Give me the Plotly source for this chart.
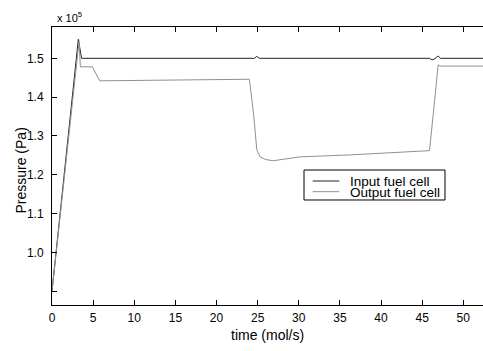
import plotly.graph_objects as go

# Data (pressure in units of 1e5 Pa)
t_input = [0, 3.2, 3.6, 24.6, 24.9, 25.2, 45.9, 46.2, 46.55, 46.95, 47.25, 52.5]
p_input = [0.90, 1.549, 1.500, 1.500, 1.505, 1.500, 1.500, 1.496, 1.499, 1.506, 1.500, 1.500]

t_output = [0, 3.3, 3.45, 4.9, 5.8, 24.0, 24.5, 24.9, 25.3, 26.0, 26.9, 30.1, 36.2, 42.3, 45.9, 46.95, 47.2, 52.5]
p_output = [0.90, 1.545, 1.478, 1.478, 1.442, 1.446, 1.358, 1.264, 1.246, 1.239, 1.236, 1.246, 1.251, 1.258, 1.262, 1.483, 1.480, 1.480]

series_names = ["Input fuel cell", "Output fuel cell"]
series_colors = ["#222222", "#8f8f8f"]

x_ticks = [0, 5, 10, 15, 20, 25, 30, 35, 40, 45, 50]
y_ticks = [1.0, 1.1, 1.2, 1.3, 1.4, 1.5]
y_ticklabels = ["1.0", "1.1", "1.2", "1.3", "1.4", "1.5"]
y_unlabeled_ticks = [0.9]

FONT = "Liberation Sans, Arial, sans-serif"

fig = go.Figure()
fig.add_trace(go.Scatter(x=t_input, y=p_input, mode="lines", name=series_names[0],
                         line=dict(color=series_colors[0], width=1), showlegend=False))
fig.add_trace(go.Scatter(x=t_output, y=p_output, mode="lines", name=series_names[1],
                         line=dict(color=series_colors[1], width=1), showlegend=False))

fig.update_layout(
    width=483, height=351,
    margin=dict(l=52, r=0, t=27, b=46),
    paper_bgcolor="white", plot_bgcolor="white",
    font=dict(family=FONT, color="black", size=12),
    showlegend=False,
)
fig.update_xaxes(range=[0, 52.4], tickvals=x_ticks, ticks="inside", ticklen=5,
                 tickcolor="black", showline=True, linecolor="black", linewidth=1,
                 mirror="ticks", showgrid=False, zeroline=False,
                 tickfont=dict(size=12, family=FONT, color="black"), ticklabelstandoff=2)
fig.update_yaxes(range=[0.8642, 1.5807], tickvals=y_ticks, ticktext=y_ticklabels,
                 ticks="inside", ticklen=5, tickcolor="black", showline=True,
                 linecolor="black", linewidth=1, mirror=False, showgrid=False,
                 zeroline=False, tickfont=dict(size=12, family=FONT, color="black"),
                 ticklabelstandoff=5,
                 minor=dict(tickvals=y_unlabeled_ticks, ticks="inside", ticklen=5,
                            tickcolor="black", showgrid=False))

annotations = [
    dict(text="time (mol/s)", xref="paper", yref="paper", x=0.499, y=-0.108,
         xanchor="center", yanchor="middle", showarrow=False,
         font=dict(size=14, family=FONT, color="black")),
    dict(text="Pressure (Pa)", xref="paper", yref="paper", x=-0.073, y=0.482,
         xanchor="center", yanchor="middle", textangle=-90, showarrow=False,
         font=dict(size=14, family=FONT, color="black")),
    dict(text="x 10<sup>5</sup>", xref="paper", yref="paper", x=0.008, y=1.0,
         xanchor="left", yanchor="bottom", showarrow=False, yshift=1,
         font=dict(size=11, family=FONT, color="black")),
]

# manual legend box (pixel positions converted to paper fractions)
lx0, lx1, ly0, ly1 = 0.5847, 0.9118, 0.3777, 0.4856
shapes = [dict(type="rect", xref="paper", yref="paper", x0=lx0, x1=lx1, y0=ly0, y1=ly1,
               line=dict(color="black", width=1), fillcolor="white", layer="above")]
line_rows = [0.446, 0.4076]
text_rows = [0.4445, 0.4035]
for name, color, ry, ty in zip(series_names, series_colors, line_rows, text_rows):
    shapes.append(dict(type="line", xref="paper", yref="paper", x0=0.6049, x1=0.6666,
                       y0=ry, y1=ry, line=dict(color=color, width=1), layer="above"))
    annotations.append(dict(text=name, xref="paper", yref="paper", x=0.6898, y=ty,
                            xanchor="left", yanchor="middle", showarrow=False,
                            borderpad=0,
                            font=dict(size=13.5, family=FONT, color="black")))

fig.update_layout(annotations=annotations, shapes=shapes)
fig.write_html("out.html")
